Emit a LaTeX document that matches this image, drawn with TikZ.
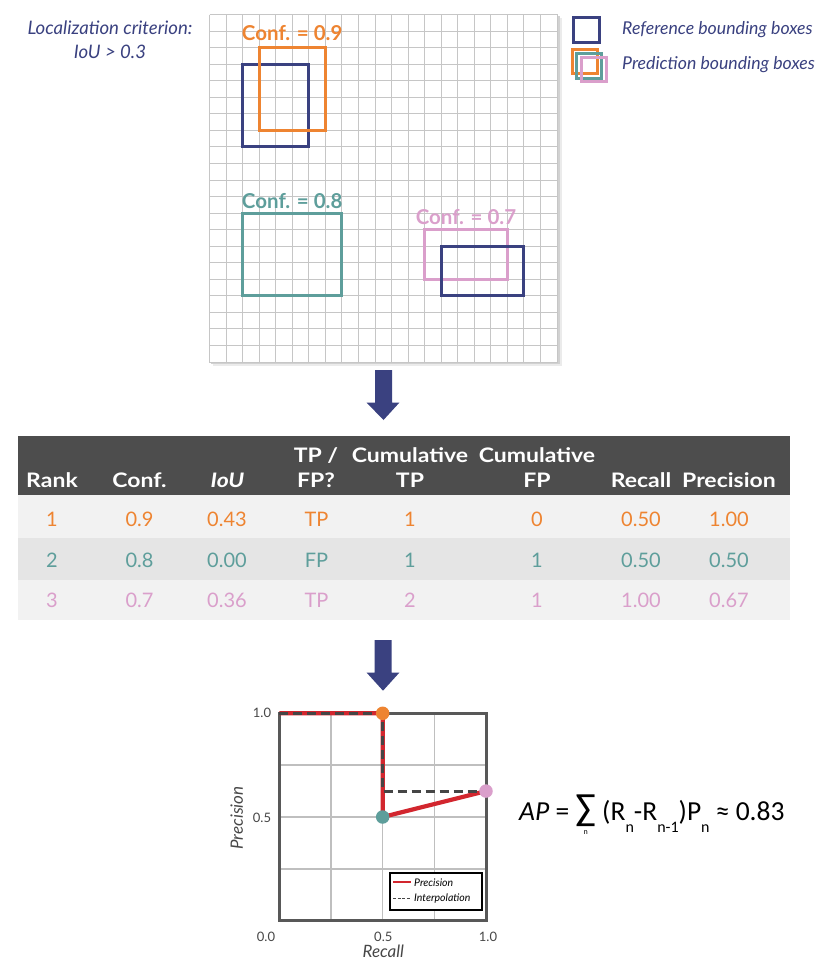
\documentclass[tikz,border=0pt]{standalone}
\usepackage{fontspec}
\setmainfont{Lato}
\newfontfamily\hdrfont[FakeStretch=1.15]{Lato}
\newfontfamily\formfont{Carlito}
\definecolor{navy}{HTML}{3A4180}
\definecolor{corange}{HTML}{EE8431}
\definecolor{cteal}{HTML}{5E9E9B}
\definecolor{cpink}{HTML}{DA9FCB}
\definecolor{hdr}{HTML}{4D4D4D}
\definecolor{rowa}{HTML}{F2F2F2}
\definecolor{rowb}{HTML}{E5E5E5}
\definecolor{cred}{HTML}{D2262E}
\definecolor{dgray}{HTML}{454545}
\definecolor{pborder}{HTML}{585858}
\definecolor{gridc}{HTML}{C6C6C6}
\newcommand\mysumn{\leavevmode\vtop{\baselineskip=0pt\lineskip=4pt\halign{\hfil##\hfil\cr {\fontsize{38}{38}\selectfont ∑}\cr \fontsize{8}{8}\selectfont n\cr}}}
\newcommand\mysub[1]{\raisebox{-0.42em}{\fontsize{16}{16}\selectfont #1}}
\begin{document}
\begin{tikzpicture}[x=1pt,y=-1pt,
  gridline/.style={draw=gridc, line width=1.4pt},
  bbox/.style={line width=3pt},
  conflabel/.style={font=\bfseries\fontsize{20.5}{24}\selectfont, anchor=west, inner sep=0pt},
  legtext/.style={text=navy, font=\itshape\fontsize{17.7}{20}\selectfont, anchor=west, inner sep=0pt},
  hdrtext/.style={text=white, font=\hdrfont\bfseries\fontsize{20}{25}\selectfont, align=center, inner sep=0pt},
  cell/.style={font=\fontsize{20}{24}\selectfont, inner sep=0pt},
  blockarrow/.style={fill=navy},
  ticklab/.style={text=black!72, font=\fontsize{13}{15}\selectfont, inner sep=0pt},
  axlab/.style={text=black!72, font=\itshape\fontsize{17}{20}\selectfont, inner sep=0pt},
  dot/.style={circle, minimum size=13.5pt, inner sep=0pt},
]
\useasboundingbox (0,0) rectangle (830,977);
\fill[white] (0,0) rectangle (830,977);

% criterion text
\node[text=navy, font=\itshape\fontsize{18.6}{24}\selectfont, align=center] (crit) at (110,40) {Localization criterion:\\IoU > 0.3};

% grid (lines snapped to pixel centres)
\fill[black!8] (213,18) rectangle (562,366);
\fill[black!18] (211,16) rectangle (559.5,363.5);
\fill[white] (209.5,14.5) rectangle (557.5,362.5);
\foreach \gk in {0,1,...,21} {
  \pgfmathsetmacro\gx{209.5+round(16.55*\gk)}
  \pgfmathsetmacro\gy{14.5+round(16.55*\gk)}
  \draw[gridline] (\gx,14.5) -- (\gx,362.5);
  \draw[gridline] (209.5,\gy) -- (557.5,\gy);
}
\begin{scope}[shift={(209.5,14.5)}, x=16.55pt, y=-16.55pt]
  \draw[navy, bbox] (2,3) rectangle (6,8);
  \draw[corange, bbox] (3,2) rectangle (7,7);
  \draw[cteal, bbox] (2,12) rectangle (8,17);
  \draw[cpink, bbox] (13,13) rectangle (18,16);
  \draw[navy, bbox] (14,14) rectangle (19,17);
  \node[conflabel, text=corange] (l9) at (1.95,1.15) {Conf. = 0.9};
  \node[conflabel, text=cteal] (l8) at (1.95,11.25) {Conf. = 0.8};
  \node[conflabel, text=cpink] (l7) at (12.45,12.25) {Conf. = 0.7};
\end{scope}

% legend
\draw[navy, bbox] (573,17) rectangle (599,42);
\draw[corange, bbox] (572,49) rectangle (597,73);
\draw[cteal, bbox] (576,53) rectangle (601.5,78);
\draw[cpink, bbox] (581,57.5) rectangle (606.5,81.5);
\node[legtext] (lref) at (622,30) {Reference bounding boxes};
\node[legtext] (lpred) at (622,65) {Prediction bounding boxes};

% arrows
\fill[blockarrow] (375,370) -- (392,370) -- (392,402.7) -- (399.3,402.7) -- (383.5,420) -- (366.7,402.7) -- (375,402.7) -- cycle;
\fill[blockarrow] (374.5,640) -- (391.7,640) -- (391.7,672.7) -- (399.3,672.7) -- (383,690.7) -- (366.7,672.7) -- (374.5,672.7) -- cycle;

% table
\fill[hdr] (18,436) rectangle (790,495);
\fill[rowa] (18,495) rectangle (790,537.5);
\fill[rowb] (18,537.5) rectangle (790,580);
\fill[rowa] (18,580) rectangle (790,620);
\node[hdrtext] (hrank) at (52,480) {Rank};
\node[hdrtext] (hconf) at (139.5,480) {Conf.};
\node[hdrtext, font=\hdrfont\bfseries\itshape\fontsize{20}{25}\selectfont] (hiou) at (227.5,480) {IoU};
\node[hdrtext] (htp) at (316,467.5) {TP /\\FP?};
\node[hdrtext] (hctp) at (410,467.5) {Cumulative\\TP};
\node[hdrtext] (hcfp) at (537,467.5) {Cumulative\\FP};
\node[hdrtext] (hrec) at (641,480) {Recall};
\node[hdrtext] (hprec) at (729,480) {Precision};

\foreach \y/\c/\a/\b/\cc/\d/\e/\f/\g/\h/\k in {
  519.5/corange/1/0.9/0.43/TP/1/0/0.50/1.00/r1,
  560/cteal/2/0.8/0.00/FP/1/1/0.50/0.50/r2,
  600.5/cpink/3/0.7/0.36/TP/2/1/1.00/0.67/r3} {
  \node[cell, text=\c] (\k a) at (52,\y) {\a};
  \node[cell, text=\c] (\k b) at (139.5,\y) {\b};
  \node[cell, text=\c] (\k c) at (227,\y) {\cc};
  \node[cell, text=\c] (\k d) at (316.5,\y) {\d};
  \node[cell, text=\c] (\k e) at (410,\y) {\e};
  \node[cell, text=\c] (\k f) at (537,\y) {\f};
  \node[cell, text=\c] (\k g) at (641,\y) {\g};
  \node[cell, text=\c] (\k h) at (729,\y) {\h};
}

% plot
\begin{scope}[shift={(279.3,920.7)}, x=206.7pt, y=207.4pt]
  \fill[white] (0,0) rectangle (1,1);
  \foreach \t in {0.25,0.5,0.75} {
    \draw[black!25, line width=1.5pt] (\t,0) -- (\t,1);
    \draw[black!25, line width=1.5pt] (0,\t) -- (1,\t);
  }
  \draw[pborder, line width=3pt] (0,0) rectangle (1,1);
  \coordinate (p0) at (0,1);
  \coordinate (p1) at (0.5,1);
  \coordinate (p2) at (0.5,0.5);
  \coordinate (q) at (0.5,0.625);
  \coordinate (p3) at (1,0.625);
  \draw[cred, line width=4.2pt] (p0) -- (p1) -- (p2) -- (p3);
  \draw[dgray, line width=3pt, dash pattern=on 9pt off 5pt] (p0) -- (p1) -- (q) -- (p3);
  \node[dot, fill=corange] (d1) at (p1) {};
  \node[dot, fill=cteal] (d2) at (p2) {};
  \node[dot, fill=cpink] (d3) at (p3) {};
\end{scope}

% plot legend
\draw[black, line width=1.6pt, fill=white] (390,872.7) rectangle (481.7,910);
\coordinate (la) at (393,882.3);
\coordinate (lb) at (411,882.3);
\coordinate (lc) at (393,898.3);
\coordinate (ld) at (411,898.3);
\draw[cred, line width=1.8pt] (la) -- (lb);
\draw[dgray, line width=1.3pt, dash pattern=on 3pt off 1.6pt] (lc) -- (ld);
\node[anchor=west, inner sep=0pt, font=\itshape\fontsize{10.5}{12}\selectfont] (lp) at (414,882.3) {Precision};
\node[anchor=west, inner sep=0pt, font=\itshape\fontsize{10.5}{12}\selectfont] (li) at (414,898.3) {Interpolation};

% ticks and axis labels
\node[ticklab] (ty1) at (262,713.3) {1.0};
\node[ticklab] (ty5) at (262,817.7) {0.5};
\node[ticklab] (tx0) at (266,936.7) {0.0};
\node[ticklab] (tx5) at (383.3,936.7) {0.5};
\node[ticklab] (tx1) at (488,936.7) {1.0};
\node[axlab] (xl) at (383.3,951.7) {Recall};
\node[axlab, rotate=90] (yl) at (236.7,818) {Precision};

% formula
\node[anchor=west, inner sep=0pt, font=\formfont\fontsize{27.5}{34}\selectfont] (form) at (519,815)
  {\textit{AP} = \mysumn\ (R\mysub{n}-R\mysub{n-1})P\mysub{n} ≈ 0.83};
\end{tikzpicture}
\end{document}
